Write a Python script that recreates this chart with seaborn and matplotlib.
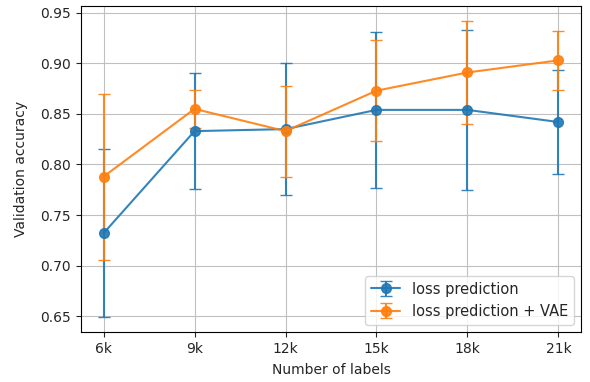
import numpy as np
import matplotlib
matplotlib.use("Agg")
import matplotlib.pyplot as plt
import seaborn as sns

# --- data ---
labels_k = [6, 9, 12, 15, 18, 21]
tick_labels = ["6k", "9k", "12k", "15k", "18k", "21k"]

lp_mean = [0.732, 0.833, 0.835, 0.854, 0.854, 0.842]
lp_err = [0.083, 0.057, 0.065, 0.077, 0.079, 0.051]

vae_mean = [0.788, 0.855, 0.833, 0.873, 0.891, 0.903]
vae_err = [0.082, 0.019, 0.045, 0.050, 0.051, 0.029]

sns.set_style("whitegrid", {
    "axes.edgecolor": "black",
    "grid.color": "#c0c0c0",
    "xtick.bottom": True,
    "ytick.left": True,
})
plt.rcParams["font.family"] = ["DejaVu Sans"]
plt.rcParams["font.size"] = 10

palette = sns.color_palette("tab10")

fig, ax = plt.subplots(figsize=(5.9, 3.82), dpi=100)
ax.errorbar(labels_k, lp_mean, yerr=lp_err, marker="o", markersize=7,
            capsize=4, color=palette[0], alpha=0.9, label="loss prediction")
ax.errorbar(labels_k, vae_mean, yerr=vae_err, marker="o", markersize=7,
            capsize=4, color=palette[1], alpha=0.9, label="loss prediction + VAE")

ax.set_xticks(labels_k)
ax.set_xticklabels(tick_labels)
ax.set_yticks(np.arange(0.65, 0.951, 0.05))
ax.set_xlabel("Number of labels", labelpad=5)
ax.set_ylabel("Validation accuracy", labelpad=9)
ax.legend(loc="lower right", fontsize=10.5)
for s in ax.spines.values():
    s.set_linewidth(0.8)

fig.subplots_adjust(left=0.137, right=0.985, top=0.984, bottom=0.131)
fig.savefig("out.png", dpi=100)
